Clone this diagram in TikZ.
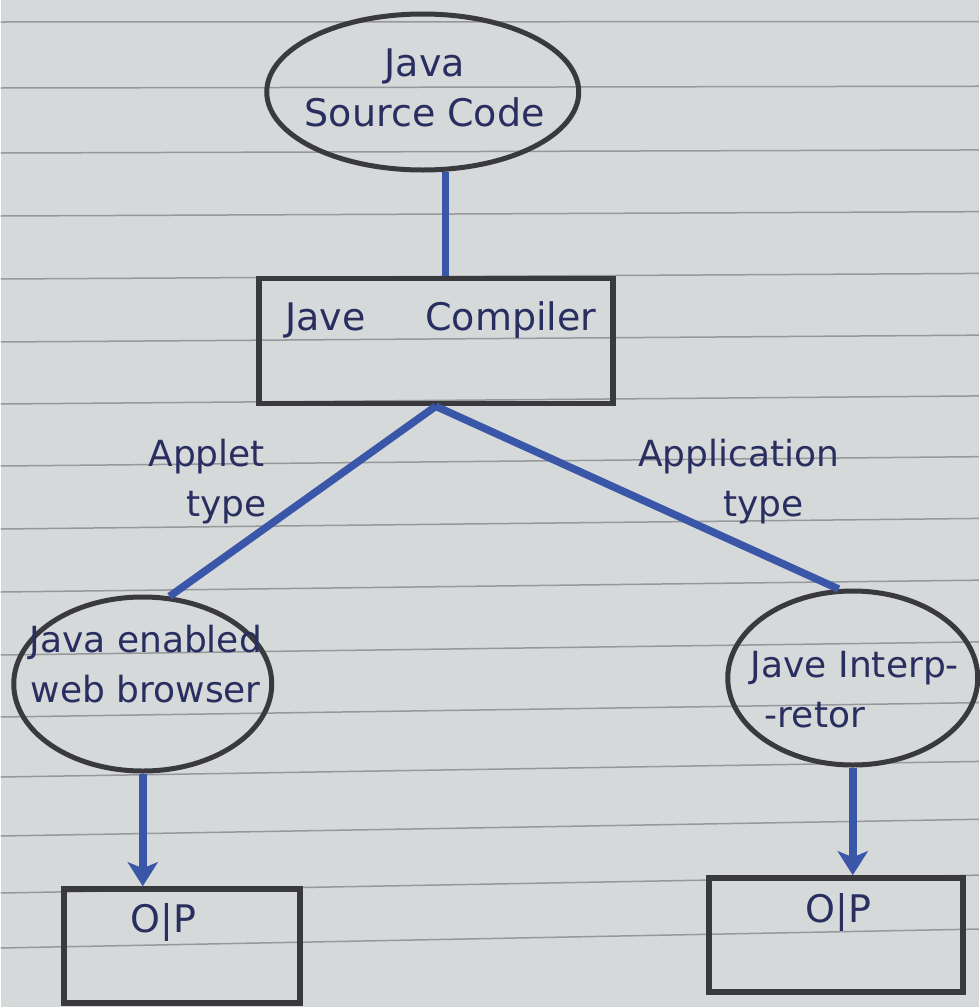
\documentclass[tikz,border=0pt]{standalone}
\usepackage{fontspec}
\setmainfont{DejaVu Sans}
\usetikzlibrary{shapes.geometric,arrows.meta}
\definecolor{paper}{RGB}{214,217,217}
\definecolor{ruling}{RGB}{150,152,157}
\definecolor{ink}{RGB}{40,46,96}
\definecolor{pencil}{RGB}{58,58,62}
\definecolor{pen}{RGB}{58,86,168}
\newcommand\hwlarge{\fontsize{38}{50}\selectfont}
\newcommand\hwnormal{\fontsize{36}{50}\selectfont}
\newcommand\hwsmall{\fontsize{38}{44}\selectfont}
\begin{document}
\begin{tikzpicture}[x=1pt,y=-1pt,
  oval/.style={draw=pencil,line width=5pt,shape=ellipse,inner sep=0pt},
  box/.style={draw=pencil,line width=5.5pt,shape=rectangle,inner sep=0pt},
  txt/.style={text=ink,align=center,inner sep=0pt,font=\hwnormal},
  wire/.style={draw=pen,line width=7.5pt},
  flow/.style={wire,-{Stealth[length=24pt,width=30pt,inset=6pt]}}]
  % ruled notebook page
  \fill[paper] (0,0) rectangle (978,1007);
  \foreach \y in {22,88,153,216,279,342,404,466,529,592,655,717,777,836,893,948}
    \draw[ruling,line width=1.5pt] (0,\y) -- (978,\y-0.02*\y);
  \useasboundingbox (0,0) rectangle (978,1007);

  % shapes
  \node[oval,minimum width=312pt,minimum height=156pt] (src) at (422,92) {};
  \node[box,minimum width=354pt,minimum height=125pt] (comp) at (435,341) {};
  \node[oval,minimum width=258pt,minimum height=174pt] (web) at (142,684) {};
  \node[oval,minimum width=250pt,minimum height=174pt] (interp) at (852,678) {};
  \node[box,minimum width=236pt,minimum height=114pt] (op1) at (181,946) {};
  \node[box,minimum width=254pt,minimum height=114pt] (op2) at (835,935) {};

  % texts
  \node[txt,font=\hwlarge] (srctext) at (424,88) {Java\\Source Code};
  \node[txt,font=\hwlarge] (comptext) at (440,320) {Jave\hspace{60pt}Compiler};
  \node[txt] (webtext) at (145,664) {Java enabled\\web browser};
  \node[txt,align=left,anchor=west] (interptext) at (750,690) {Jave Interp-\\\hspace{14pt}-retor};
  \node[txt,font=\hwsmall] (op1text) at (163,922) {O|P};
  \node[txt,font=\hwsmall] (op2text) at (838,912) {O|P};
  \node[txt] (applet) at (206,482) {Applet\\\hspace{40pt}type};
  \node[txt] (application) at (738,482) {Application\\\hspace{50pt}type};

  % connectors
  \draw[wire] (src.-74) -- (src.-74 |- comp.north);
  \draw[wire] (comp.south) -- (web.73);
  \draw[wire] (comp.south) -- (interp.99);
  \draw[flow] (web.south) -- (web.south |- op1.north);
  \draw[flow] (interp.south) -- (interp.south |- op2.north);
\end{tikzpicture}
\end{document}
